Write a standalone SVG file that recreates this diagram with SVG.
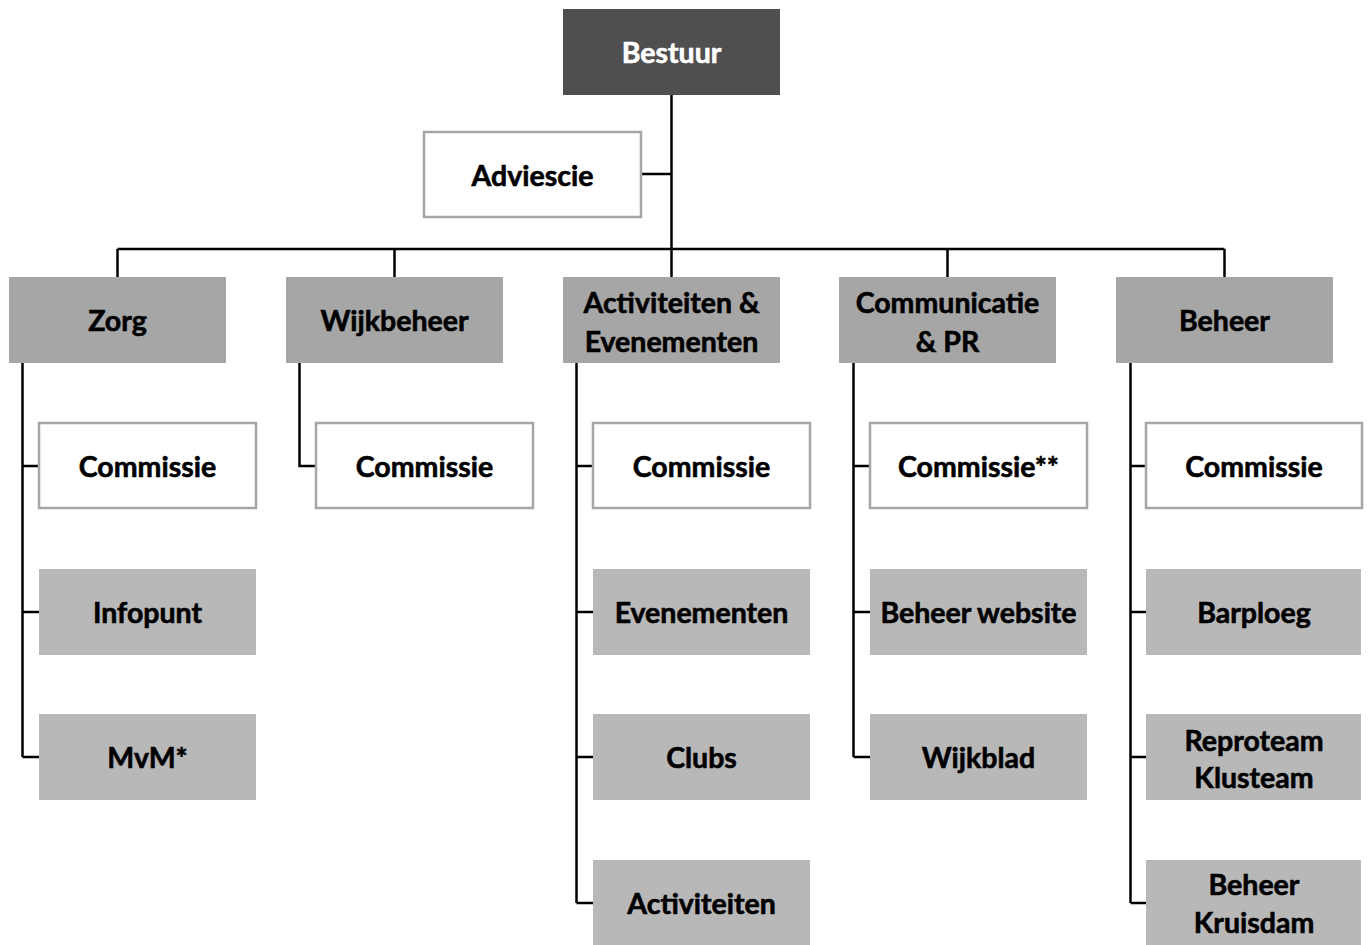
<svg xmlns="http://www.w3.org/2000/svg" width="1371" height="945" viewBox="0 0 1371 945">
<style>
.t{font-family:Lato,"Open Sans","Liberation Sans",sans-serif;font-weight:bold;font-size:28.5px;text-anchor:middle;fill:#000;stroke:#000;stroke-width:0.6}
.w{fill:#fff;stroke:#fff}
.dark{fill:#4f4f4f}
.l2{fill:#a6a6a6}
.l3{fill:#b8b8b8}
.wb{fill:#fff;stroke:#a6a6a6;stroke-width:2.5}
.c{fill:none;stroke:#000;stroke-width:2.5}
</style>
<rect width="1371" height="945" fill="#fff"/>
<g id="connectors">
<path class="c" d="M671.5 95V249M641 174H671.5M117.5 249H1224.5M117.5 249V277M394.5 249V277M671.5 249V277M947.5 249V277M1224.5 249V277"/>
<path class="c" d="M22.5 363V757M22.5 466H39M22.5 612H39M22.5 757H39"/>
<path class="c" d="M299.5 363V466H316"/>
<path class="c" d="M576.5 363V903M576.5 466H593M576.5 612H593M576.5 757H593M576.5 903H593"/>
<path class="c" d="M853.5 363V757M853.5 466H870M853.5 612H870M853.5 757H870"/>
<path class="c" d="M1130.5 363V903M1130.5 466H1146M1130.5 612H1146M1130.5 757H1146M1130.5 903H1146"/>
</g>
<g id="bestuur"><rect class="dark" x="563" y="9" width="217" height="86"/><text class="t w" x="671.5" y="63">Bestuur</text></g>
<g id="adviescie"><rect class="wb" x="424" y="132" width="217" height="85"/><text class="t" x="532.5" y="186">Adviescie</text></g>
<g id="zorg"><rect class="l2" x="9" y="277" width="217" height="86"/><text class="t" x="117.5" y="331">Zorg</text></g>
<g id="wijkbeheer"><rect class="l2" x="286" y="277" width="217" height="86"/><text class="t" x="394.5" y="331">Wijkbeheer</text></g>
<g id="activiteiten-evenementen"><rect class="l2" x="563" y="277" width="217" height="86"/><text class="t" x="671.5" y="313">Activiteiten &amp;</text><text class="t" x="671.5" y="352">Evenementen</text></g>
<g id="communicatie-pr"><rect class="l2" x="839" y="277" width="217" height="86"/><text class="t" x="947.5" y="313">Communicatie</text><text class="t" x="947.5" y="352">&amp; PR</text></g>
<g id="beheer"><rect class="l2" x="1116" y="277" width="217" height="86"/><text class="t" x="1224.5" y="331">Beheer</text></g>

<g id="zorg-commissie"><rect class="wb" x="39" y="423" width="217" height="85"/><text class="t" x="147.5" y="477">Commissie</text></g>
<g id="infopunt"><rect class="l3" x="39" y="569" width="217" height="86"/><text class="t" x="147.5" y="623">Infopunt</text></g>
<g id="mvm"><rect class="l3" x="39" y="714" width="217" height="86"/><text class="t" x="147.5" y="768">MvM*</text></g>

<g id="wijkbeheer-commissie"><rect class="wb" x="316" y="423" width="217" height="85"/><text class="t" x="424.5" y="477">Commissie</text></g>

<g id="act-commissie"><rect class="wb" x="593" y="423" width="217" height="85"/><text class="t" x="701.5" y="477">Commissie</text></g>
<g id="evenementen"><rect class="l3" x="593" y="569" width="217" height="86"/><text class="t" x="701.5" y="623">Evenementen</text></g>
<g id="clubs"><rect class="l3" x="593" y="714" width="217" height="86"/><text class="t" x="701.5" y="768">Clubs</text></g>
<g id="activiteiten"><rect class="l3" x="593" y="860" width="217" height="85"/><text class="t" x="701.5" y="914">Activiteiten</text></g>

<g id="comm-commissie"><rect class="wb" x="870" y="423" width="217" height="85"/><text class="t" x="978.5" y="477">Commissie**</text></g>
<g id="beheer-website"><rect class="l3" x="870" y="569" width="217" height="86"/><text class="t" x="978.5" y="623">Beheer website</text></g>
<g id="wijkblad"><rect class="l3" x="870" y="714" width="217" height="86"/><text class="t" x="978.5" y="768">Wijkblad</text></g>

<g id="beheer-commissie"><rect class="wb" x="1146" y="423" width="216" height="85"/><text class="t" x="1254" y="477">Commissie</text></g>
<g id="barploeg"><rect class="l3" x="1146" y="569" width="215" height="86"/><text class="t" x="1254" y="623">Barploeg</text></g>
<g id="reproteam-klusteam"><rect class="l3" x="1146" y="714" width="215" height="86"/><text class="t" x="1254" y="751">Reproteam</text><text class="t" x="1254" y="788">Klusteam</text></g>
<g id="beheer-kruisdam"><rect class="l3" x="1146" y="860" width="215" height="85"/><text class="t" x="1254" y="895">Beheer</text><text class="t" x="1254" y="933">Kruisdam</text></g>
</svg>
